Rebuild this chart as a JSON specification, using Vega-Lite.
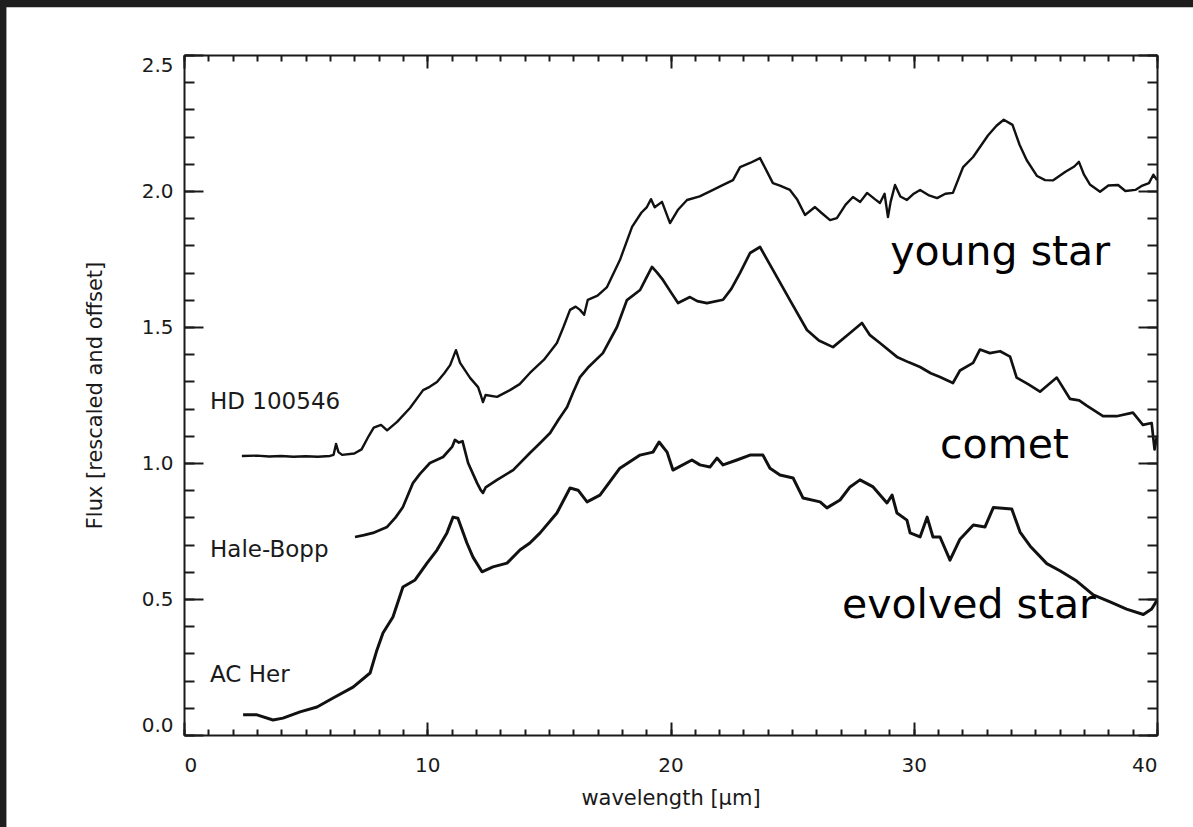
{
  "$schema": "https://vega.github.io/schema/vega-lite/v6.json",
  "width": 973,
  "height": 680,
  "autosize": {"type": "none"},
  "padding": {"left": 184, "top": 55, "right": 36, "bottom": 92},
  "background": "#1e1e1e",
  "config": {
    "view": {"stroke": null},
    "axis": {
      "grid": false,
      "domainColor": "#1a1a1a",
      "domainWidth": 2,
      "tickColor": "#1a1a1a",
      "tickWidth": 2,
      "labelColor": "#1a1a1a",
      "titleColor": "#1a1a1a",
      "labelFont": "DejaVu Sans",
      "titleFont": "DejaVu Sans",
      "titleFontWeight": "normal"
    }
  },
  "datasets": {
    "sheet": [{"part": "sheet"}],
    "spectra": [
      {"star": "HD 100546", "wavelength": 2.38, "flux": 1.026},
      {"star": "HD 100546", "wavelength": 3.0, "flux": 1.027},
      {"star": "HD 100546", "wavelength": 3.5, "flux": 1.024},
      {"star": "HD 100546", "wavelength": 4.0, "flux": 1.026},
      {"star": "HD 100546", "wavelength": 4.5, "flux": 1.023},
      {"star": "HD 100546", "wavelength": 5.0, "flux": 1.025},
      {"star": "HD 100546", "wavelength": 5.5, "flux": 1.023},
      {"star": "HD 100546", "wavelength": 6.0, "flux": 1.026},
      {"star": "HD 100546", "wavelength": 6.15, "flux": 1.03},
      {"star": "HD 100546", "wavelength": 6.25, "flux": 1.07},
      {"star": "HD 100546", "wavelength": 6.35, "flux": 1.04},
      {"star": "HD 100546", "wavelength": 6.5, "flux": 1.03},
      {"star": "HD 100546", "wavelength": 7.0, "flux": 1.035},
      {"star": "HD 100546", "wavelength": 7.3, "flux": 1.05},
      {"star": "HD 100546", "wavelength": 7.6, "flux": 1.1},
      {"star": "HD 100546", "wavelength": 7.8, "flux": 1.13},
      {"star": "HD 100546", "wavelength": 8.1, "flux": 1.14},
      {"star": "HD 100546", "wavelength": 8.35, "flux": 1.12},
      {"star": "HD 100546", "wavelength": 8.76, "flux": 1.151},
      {"star": "HD 100546", "wavelength": 9.29, "flux": 1.202},
      {"star": "HD 100546", "wavelength": 9.83, "flux": 1.268},
      {"star": "HD 100546", "wavelength": 10.1, "flux": 1.28},
      {"star": "HD 100546", "wavelength": 10.4, "flux": 1.298},
      {"star": "HD 100546", "wavelength": 10.7, "flux": 1.33},
      {"star": "HD 100546", "wavelength": 10.94, "flux": 1.36},
      {"star": "HD 100546", "wavelength": 11.18, "flux": 1.415},
      {"star": "HD 100546", "wavelength": 11.35, "flux": 1.368},
      {"star": "HD 100546", "wavelength": 11.76, "flux": 1.313},
      {"star": "HD 100546", "wavelength": 12.09, "flux": 1.279},
      {"star": "HD 100546", "wavelength": 12.2, "flux": 1.25},
      {"star": "HD 100546", "wavelength": 12.29, "flux": 1.224},
      {"star": "HD 100546", "wavelength": 12.4, "flux": 1.25},
      {"star": "HD 100546", "wavelength": 12.87, "flux": 1.243},
      {"star": "HD 100546", "wavelength": 13.4, "flux": 1.268},
      {"star": "HD 100546", "wavelength": 13.8, "flux": 1.29},
      {"star": "HD 100546", "wavelength": 14.22, "flux": 1.331},
      {"star": "HD 100546", "wavelength": 14.8, "flux": 1.38},
      {"star": "HD 100546", "wavelength": 15.33, "flux": 1.441},
      {"star": "HD 100546", "wavelength": 15.6, "flux": 1.5},
      {"star": "HD 100546", "wavelength": 15.87, "flux": 1.563},
      {"star": "HD 100546", "wavelength": 16.1, "flux": 1.575},
      {"star": "HD 100546", "wavelength": 16.28, "flux": 1.563},
      {"star": "HD 100546", "wavelength": 16.45, "flux": 1.545},
      {"star": "HD 100546", "wavelength": 16.6, "flux": 1.6},
      {"star": "HD 100546", "wavelength": 17.0, "flux": 1.615},
      {"star": "HD 100546", "wavelength": 17.39, "flux": 1.647},
      {"star": "HD 100546", "wavelength": 17.92, "flux": 1.746},
      {"star": "HD 100546", "wavelength": 18.42, "flux": 1.868},
      {"star": "HD 100546", "wavelength": 18.8, "flux": 1.92},
      {"star": "HD 100546", "wavelength": 19.03, "flux": 1.941},
      {"star": "HD 100546", "wavelength": 19.2, "flux": 1.97},
      {"star": "HD 100546", "wavelength": 19.35, "flux": 1.94},
      {"star": "HD 100546", "wavelength": 19.65, "flux": 1.96},
      {"star": "HD 100546", "wavelength": 19.98, "flux": 1.882},
      {"star": "HD 100546", "wavelength": 20.3, "flux": 1.93},
      {"star": "HD 100546", "wavelength": 20.68, "flux": 1.967},
      {"star": "HD 100546", "wavelength": 21.2, "flux": 1.98},
      {"star": "HD 100546", "wavelength": 21.75, "flux": 2.004},
      {"star": "HD 100546", "wavelength": 22.1, "flux": 2.02},
      {"star": "HD 100546", "wavelength": 22.57, "flux": 2.04},
      {"star": "HD 100546", "wavelength": 22.86, "flux": 2.088},
      {"star": "HD 100546", "wavelength": 23.27, "flux": 2.103},
      {"star": "HD 100546", "wavelength": 23.68, "flux": 2.121},
      {"star": "HD 100546", "wavelength": 24.21, "flux": 2.029},
      {"star": "HD 100546", "wavelength": 24.5, "flux": 2.02},
      {"star": "HD 100546", "wavelength": 24.91, "flux": 2.004},
      {"star": "HD 100546", "wavelength": 25.2, "flux": 1.97},
      {"star": "HD 100546", "wavelength": 25.53, "flux": 1.912},
      {"star": "HD 100546", "wavelength": 25.94, "flux": 1.941},
      {"star": "HD 100546", "wavelength": 26.2, "flux": 1.92},
      {"star": "HD 100546", "wavelength": 26.56, "flux": 1.893},
      {"star": "HD 100546", "wavelength": 26.84, "flux": 1.9},
      {"star": "HD 100546", "wavelength": 27.2, "flux": 1.95},
      {"star": "HD 100546", "wavelength": 27.5, "flux": 1.978},
      {"star": "HD 100546", "wavelength": 27.8, "flux": 1.96},
      {"star": "HD 100546", "wavelength": 28.08, "flux": 1.993},
      {"star": "HD 100546", "wavelength": 28.4, "flux": 1.97},
      {"star": "HD 100546", "wavelength": 28.61, "flux": 1.956},
      {"star": "HD 100546", "wavelength": 28.8, "flux": 1.99},
      {"star": "HD 100546", "wavelength": 28.94, "flux": 1.904},
      {"star": "HD 100546", "wavelength": 29.05, "flux": 1.96},
      {"star": "HD 100546", "wavelength": 29.23, "flux": 2.022},
      {"star": "HD 100546", "wavelength": 29.45, "flux": 1.98},
      {"star": "HD 100546", "wavelength": 29.72, "flux": 1.967},
      {"star": "HD 100546", "wavelength": 30.0, "flux": 1.99},
      {"star": "HD 100546", "wavelength": 30.26, "flux": 2.004},
      {"star": "HD 100546", "wavelength": 30.6, "flux": 1.985},
      {"star": "HD 100546", "wavelength": 30.96, "flux": 1.974},
      {"star": "HD 100546", "wavelength": 31.3, "flux": 1.99},
      {"star": "HD 100546", "wavelength": 31.61, "flux": 1.993},
      {"star": "HD 100546", "wavelength": 32.03, "flux": 2.088},
      {"star": "HD 100546", "wavelength": 32.44, "flux": 2.125},
      {"star": "HD 100546", "wavelength": 33.05, "flux": 2.204},
      {"star": "HD 100546", "wavelength": 33.4, "flux": 2.24},
      {"star": "HD 100546", "wavelength": 33.7, "flux": 2.262},
      {"star": "HD 100546", "wavelength": 34.06, "flux": 2.243},
      {"star": "HD 100546", "wavelength": 34.35, "flux": 2.17},
      {"star": "HD 100546", "wavelength": 34.64, "flux": 2.114},
      {"star": "HD 100546", "wavelength": 35.07, "flux": 2.055},
      {"star": "HD 100546", "wavelength": 35.4, "flux": 2.04},
      {"star": "HD 100546", "wavelength": 35.72, "flux": 2.039},
      {"star": "HD 100546", "wavelength": 36.22, "flux": 2.07},
      {"star": "HD 100546", "wavelength": 36.6, "flux": 2.09},
      {"star": "HD 100546", "wavelength": 36.79, "flux": 2.107},
      {"star": "HD 100546", "wavelength": 37.0, "flux": 2.06},
      {"star": "HD 100546", "wavelength": 37.24, "flux": 2.024},
      {"star": "HD 100546", "wavelength": 37.66, "flux": 1.997},
      {"star": "HD 100546", "wavelength": 38.0, "flux": 2.02},
      {"star": "HD 100546", "wavelength": 38.4, "flux": 2.022},
      {"star": "HD 100546", "wavelength": 38.7, "flux": 2.0},
      {"star": "HD 100546", "wavelength": 39.11, "flux": 2.004},
      {"star": "HD 100546", "wavelength": 39.4, "flux": 2.02},
      {"star": "HD 100546", "wavelength": 39.67, "flux": 2.029},
      {"star": "HD 100546", "wavelength": 39.85, "flux": 2.06},
      {"star": "HD 100546", "wavelength": 40.0, "flux": 2.04},

      {"star": "Hale-Bopp", "wavelength": 7.03, "flux": 0.728},
      {"star": "Hale-Bopp", "wavelength": 7.4, "flux": 0.735},
      {"star": "Hale-Bopp", "wavelength": 7.77, "flux": 0.743},
      {"star": "Hale-Bopp", "wavelength": 8.35, "flux": 0.765},
      {"star": "Hale-Bopp", "wavelength": 8.7, "flux": 0.8},
      {"star": "Hale-Bopp", "wavelength": 9.0, "flux": 0.838},
      {"star": "Hale-Bopp", "wavelength": 9.41, "flux": 0.926},
      {"star": "Hale-Bopp", "wavelength": 9.7, "flux": 0.96},
      {"star": "Hale-Bopp", "wavelength": 10.11, "flux": 1.0},
      {"star": "Hale-Bopp", "wavelength": 10.65, "flux": 1.022},
      {"star": "Hale-Bopp", "wavelength": 11.02, "flux": 1.059},
      {"star": "Hale-Bopp", "wavelength": 11.14, "flux": 1.085},
      {"star": "Hale-Bopp", "wavelength": 11.3, "flux": 1.075},
      {"star": "Hale-Bopp", "wavelength": 11.45, "flux": 1.08},
      {"star": "Hale-Bopp", "wavelength": 11.68, "flux": 1.0},
      {"star": "Hale-Bopp", "wavelength": 12.05, "flux": 0.926},
      {"star": "Hale-Bopp", "wavelength": 12.2, "flux": 0.9},
      {"star": "Hale-Bopp", "wavelength": 12.29, "flux": 0.89},
      {"star": "Hale-Bopp", "wavelength": 12.4, "flux": 0.91},
      {"star": "Hale-Bopp", "wavelength": 12.87, "flux": 0.938},
      {"star": "Hale-Bopp", "wavelength": 13.53, "flux": 0.974},
      {"star": "Hale-Bopp", "wavelength": 14.22, "flux": 1.037},
      {"star": "Hale-Bopp", "wavelength": 14.6, "flux": 1.07},
      {"star": "Hale-Bopp", "wavelength": 15.05, "flux": 1.11},
      {"star": "Hale-Bopp", "wavelength": 15.4, "flux": 1.16},
      {"star": "Hale-Bopp", "wavelength": 15.75, "flux": 1.206},
      {"star": "Hale-Bopp", "wavelength": 16.0, "flux": 1.26},
      {"star": "Hale-Bopp", "wavelength": 16.28, "flux": 1.316},
      {"star": "Hale-Bopp", "wavelength": 16.6, "flux": 1.35},
      {"star": "Hale-Bopp", "wavelength": 17.22, "flux": 1.404},
      {"star": "Hale-Bopp", "wavelength": 17.8, "flux": 1.5},
      {"star": "Hale-Bopp", "wavelength": 18.21, "flux": 1.599},
      {"star": "Hale-Bopp", "wavelength": 18.75, "flux": 1.636},
      {"star": "Hale-Bopp", "wavelength": 19.0, "flux": 1.68},
      {"star": "Hale-Bopp", "wavelength": 19.24, "flux": 1.721},
      {"star": "Hale-Bopp", "wavelength": 19.45, "flux": 1.7},
      {"star": "Hale-Bopp", "wavelength": 19.69, "flux": 1.673},
      {"star": "Hale-Bopp", "wavelength": 20.0, "flux": 1.63},
      {"star": "Hale-Bopp", "wavelength": 20.31, "flux": 1.588},
      {"star": "Hale-Bopp", "wavelength": 20.8, "flux": 1.61},
      {"star": "Hale-Bopp", "wavelength": 21.1, "flux": 1.595},
      {"star": "Hale-Bopp", "wavelength": 21.5, "flux": 1.588},
      {"star": "Hale-Bopp", "wavelength": 22.16, "flux": 1.6},
      {"star": "Hale-Bopp", "wavelength": 22.5, "flux": 1.64},
      {"star": "Hale-Bopp", "wavelength": 22.86, "flux": 1.699},
      {"star": "Hale-Bopp", "wavelength": 23.27, "flux": 1.772},
      {"star": "Hale-Bopp", "wavelength": 23.68, "flux": 1.794},
      {"star": "Hale-Bopp", "wavelength": 24.21, "flux": 1.71},
      {"star": "Hale-Bopp", "wavelength": 24.91, "flux": 1.599},
      {"star": "Hale-Bopp", "wavelength": 25.61, "flux": 1.489},
      {"star": "Hale-Bopp", "wavelength": 26.1, "flux": 1.45},
      {"star": "Hale-Bopp", "wavelength": 26.68, "flux": 1.426},
      {"star": "Hale-Bopp", "wavelength": 27.38, "flux": 1.478},
      {"star": "Hale-Bopp", "wavelength": 27.87, "flux": 1.515},
      {"star": "Hale-Bopp", "wavelength": 28.2, "flux": 1.47},
      {"star": "Hale-Bopp", "wavelength": 28.61, "flux": 1.441},
      {"star": "Hale-Bopp", "wavelength": 29.31, "flux": 1.39},
      {"star": "Hale-Bopp", "wavelength": 29.8, "flux": 1.37},
      {"star": "Hale-Bopp", "wavelength": 30.26, "flux": 1.353},
      {"star": "Hale-Bopp", "wavelength": 30.7, "flux": 1.33},
      {"star": "Hale-Bopp", "wavelength": 31.08, "flux": 1.316},
      {"star": "Hale-Bopp", "wavelength": 31.61, "flux": 1.294},
      {"star": "Hale-Bopp", "wavelength": 31.9, "flux": 1.34},
      {"star": "Hale-Bopp", "wavelength": 32.44, "flux": 1.368},
      {"star": "Hale-Bopp", "wavelength": 32.72, "flux": 1.417},
      {"star": "Hale-Bopp", "wavelength": 33.13, "flux": 1.404},
      {"star": "Hale-Bopp", "wavelength": 33.55, "flux": 1.411},
      {"star": "Hale-Bopp", "wavelength": 33.96, "flux": 1.391},
      {"star": "Hale-Bopp", "wavelength": 34.23, "flux": 1.314},
      {"star": "Hale-Bopp", "wavelength": 34.7, "flux": 1.29},
      {"star": "Hale-Bopp", "wavelength": 35.19, "flux": 1.262},
      {"star": "Hale-Bopp", "wavelength": 35.88, "flux": 1.314},
      {"star": "Hale-Bopp", "wavelength": 36.42, "flux": 1.236},
      {"star": "Hale-Bopp", "wavelength": 36.8, "flux": 1.23},
      {"star": "Hale-Bopp", "wavelength": 37.11, "flux": 1.211},
      {"star": "Hale-Bopp", "wavelength": 37.78, "flux": 1.172},
      {"star": "Hale-Bopp", "wavelength": 38.34, "flux": 1.172},
      {"star": "Hale-Bopp", "wavelength": 39.01, "flux": 1.185},
      {"star": "Hale-Bopp", "wavelength": 39.42, "flux": 1.14},
      {"star": "Hale-Bopp", "wavelength": 39.78, "flux": 1.147},
      {"star": "Hale-Bopp", "wavelength": 39.9, "flux": 1.05},
      {"star": "Hale-Bopp", "wavelength": 40.0, "flux": 1.1},

      {"star": "AC Her", "wavelength": 2.43, "flux": 0.074},
      {"star": "AC Her", "wavelength": 3.0, "flux": 0.074},
      {"star": "AC Her", "wavelength": 3.66, "flux": 0.055},
      {"star": "AC Her", "wavelength": 4.07, "flux": 0.062},
      {"star": "AC Her", "wavelength": 4.77, "flux": 0.085},
      {"star": "AC Her", "wavelength": 5.47, "flux": 0.103},
      {"star": "AC Her", "wavelength": 6.13, "flux": 0.136},
      {"star": "AC Her", "wavelength": 6.95, "flux": 0.176},
      {"star": "AC Her", "wavelength": 7.65, "flux": 0.228},
      {"star": "AC Her", "wavelength": 7.93, "flux": 0.312},
      {"star": "AC Her", "wavelength": 8.18, "flux": 0.375},
      {"star": "AC Her", "wavelength": 8.59, "flux": 0.434},
      {"star": "AC Her", "wavelength": 9.0, "flux": 0.544},
      {"star": "AC Her", "wavelength": 9.5, "flux": 0.57},
      {"star": "AC Her", "wavelength": 9.99, "flux": 0.632},
      {"star": "AC Her", "wavelength": 10.4, "flux": 0.68},
      {"star": "AC Her", "wavelength": 10.81, "flux": 0.743},
      {"star": "AC Her", "wavelength": 11.06, "flux": 0.801},
      {"star": "AC Her", "wavelength": 11.26, "flux": 0.797},
      {"star": "AC Her", "wavelength": 11.63, "flux": 0.706},
      {"star": "AC Her", "wavelength": 11.88, "flux": 0.654},
      {"star": "AC Her", "wavelength": 12.25, "flux": 0.6},
      {"star": "AC Her", "wavelength": 12.7, "flux": 0.618},
      {"star": "AC Her", "wavelength": 13.28, "flux": 0.632},
      {"star": "AC Her", "wavelength": 13.81, "flux": 0.68},
      {"star": "AC Her", "wavelength": 14.22, "flux": 0.706},
      {"star": "AC Her", "wavelength": 14.64, "flux": 0.743},
      {"star": "AC Her", "wavelength": 15.33, "flux": 0.816},
      {"star": "AC Her", "wavelength": 15.87, "flux": 0.908},
      {"star": "AC Her", "wavelength": 16.2, "flux": 0.9},
      {"star": "AC Her", "wavelength": 16.57, "flux": 0.857},
      {"star": "AC Her", "wavelength": 17.1, "flux": 0.882},
      {"star": "AC Her", "wavelength": 17.92, "flux": 0.981},
      {"star": "AC Her", "wavelength": 18.75, "flux": 1.029},
      {"star": "AC Her", "wavelength": 19.28, "flux": 1.04},
      {"star": "AC Her", "wavelength": 19.53, "flux": 1.077},
      {"star": "AC Her", "wavelength": 19.86, "flux": 1.04},
      {"star": "AC Her", "wavelength": 20.1, "flux": 0.974},
      {"star": "AC Her", "wavelength": 20.88, "flux": 1.011},
      {"star": "AC Her", "wavelength": 21.21, "flux": 0.993},
      {"star": "AC Her", "wavelength": 21.62, "flux": 0.985},
      {"star": "AC Her", "wavelength": 21.91, "flux": 1.018},
      {"star": "AC Her", "wavelength": 22.16, "flux": 0.993},
      {"star": "AC Her", "wavelength": 22.73, "flux": 1.011},
      {"star": "AC Her", "wavelength": 23.27, "flux": 1.029},
      {"star": "AC Her", "wavelength": 23.8, "flux": 1.029},
      {"star": "AC Her", "wavelength": 24.09, "flux": 0.981},
      {"star": "AC Her", "wavelength": 24.5, "flux": 0.956},
      {"star": "AC Her", "wavelength": 25.04, "flux": 0.945},
      {"star": "AC Her", "wavelength": 25.45, "flux": 0.871},
      {"star": "AC Her", "wavelength": 26.15, "flux": 0.857},
      {"star": "AC Her", "wavelength": 26.43, "flux": 0.835},
      {"star": "AC Her", "wavelength": 26.97, "flux": 0.864},
      {"star": "AC Her", "wavelength": 27.38, "flux": 0.912},
      {"star": "AC Her", "wavelength": 27.79, "flux": 0.938},
      {"star": "AC Her", "wavelength": 28.33, "flux": 0.912},
      {"star": "AC Her", "wavelength": 28.9, "flux": 0.853},
      {"star": "AC Her", "wavelength": 29.11, "flux": 0.882},
      {"star": "AC Her", "wavelength": 29.31, "flux": 0.816},
      {"star": "AC Her", "wavelength": 29.72, "flux": 0.79},
      {"star": "AC Her", "wavelength": 29.85, "flux": 0.743},
      {"star": "AC Her", "wavelength": 30.26, "flux": 0.728},
      {"star": "AC Her", "wavelength": 30.55, "flux": 0.801},
      {"star": "AC Her", "wavelength": 30.79, "flux": 0.728},
      {"star": "AC Her", "wavelength": 31.08, "flux": 0.728},
      {"star": "AC Her", "wavelength": 31.49, "flux": 0.643},
      {"star": "AC Her", "wavelength": 31.9, "flux": 0.72},
      {"star": "AC Her", "wavelength": 32.45, "flux": 0.772},
      {"star": "AC Her", "wavelength": 32.93, "flux": 0.765},
      {"star": "AC Her", "wavelength": 33.27, "flux": 0.836},
      {"star": "AC Her", "wavelength": 34.03, "flux": 0.831},
      {"star": "AC Her", "wavelength": 34.37, "flux": 0.746},
      {"star": "AC Her", "wavelength": 34.78, "flux": 0.695},
      {"star": "AC Her", "wavelength": 35.47, "flux": 0.63},
      {"star": "AC Her", "wavelength": 36.01, "flux": 0.604},
      {"star": "AC Her", "wavelength": 36.7, "flux": 0.566},
      {"star": "AC Her", "wavelength": 37.38, "flux": 0.515},
      {"star": "AC Her", "wavelength": 38.07, "flux": 0.489},
      {"star": "AC Her", "wavelength": 38.75, "flux": 0.463},
      {"star": "AC Her", "wavelength": 39.44, "flux": 0.443},
      {"star": "AC Her", "wavelength": 39.78, "flux": 0.463},
      {"star": "AC Her", "wavelength": 40.0, "flux": 0.495}
    ],
    "names": [
      {"name": "HD 100546", "wavelength": 1.07, "flux": 1.224},
      {"name": "Hale-Bopp", "wavelength": 1.07, "flux": 0.68},
      {"name": "AC Her", "wavelength": 1.07, "flux": 0.22}
    ],
    "notes": [
      {"note": "young star", "wavelength": 38.07, "flux": 1.728},
      {"note": "comet", "wavelength": 36.38, "flux": 1.018},
      {"note": "evolved star", "wavelength": 37.49, "flux": 0.43}
    ]
  },
  "layer": [
    {
      "description": "white sheet behind the plot, with the minor ticks of the top and right axes",
      "data": {"name": "sheet"},
      "mark": {"type": "rect", "color": "#ffffff"},
      "encoding": {
        "x": {
          "datum": -7.3, "type": "quantitative",
          "scale": {"domain": [0, 40], "nice": false, "zero": false},
          "axis": {"orient": "top", "zindex": 1, "values": [0,1,2,3,4,5,6,7,8,9,10,11,12,13,14,15,16,17,18,19,20,21,22,23,24,25,26,27,28,29,30,31,32,33,34,35,36,37,38,39,40], "tickSize": -6, "labels": false, "domain": false, "title": null}
        },
        "x2": {"datum": 42},
        "y": {
          "datum": 2.676, "type": "quantitative",
          "scale": {"domain": [0, 2.5], "nice": false, "zero": false},
          "axis": {"orient": "right", "zindex": 1, "values": [0,0.1,0.2,0.3,0.4,0.5,0.6,0.7,0.8,0.9,1.0,1.1,1.2,1.3,1.4,1.5,1.6,1.7,1.8,1.9,2.0,2.1,2.2,2.3,2.4,2.5], "tickSize": -10, "labels": false, "domain": false, "title": null}
        },
        "y2": {"datum": -0.4}
      }
    },
    {
      "data": {"name": "spectra"},
      "mark": {"type": "line", "color": "#111111", "strokeJoin": "round"},
      "encoding": {
        "x": {
          "field": "wavelength", "type": "quantitative",
          "scale": {"domain": [0, 40], "nice": false, "zero": false},
          "axis": {"orient": "bottom", "zindex": 1, "values": [0, 10, 20, 30, 40], "tickSize": -13, "labelFontSize": 20, "labelPadding": 33, "title": "wavelength [μm]", "titleFontSize": 21, "titlePadding": 12}
        },
        "y": {
          "field": "flux", "type": "quantitative",
          "scale": {"domain": [0, 2.5], "nice": false, "zero": false},
          "axis": {"orient": "left", "zindex": 1, "values": [0, 0.5, 1.0, 1.5, 2.0, 2.5], "format": ".1f", "tickSize": -19, "labelFontSize": 20, "labelPadding": 30, "labelFlush": true, "labelFlushOffset": 0, "title": "Flux [rescaled and offset]", "titleFontSize": 21, "titlePadding": 36}
        },
        "detail": {"field": "star", "type": "nominal"},
        "strokeWidth": {
          "field": "star", "type": "nominal",
          "scale": {"domain": ["HD 100546", "Hale-Bopp", "AC Her"], "range": [2.4, 3.0, 1.8]},
          "legend": null
        }
      }
    },
    {
      "data": {"name": "names"},
      "mark": {"type": "text", "align": "left", "baseline": "middle", "font": "DejaVu Sans", "fontSize": 23, "color": "#1a1a1a"},
      "encoding": {
        "x": {
          "field": "wavelength", "type": "quantitative",
          "scale": {"domain": [0, 40], "nice": false, "zero": false},
          "axis": {"orient": "bottom", "zindex": 1, "values": [0,1,2,3,4,5,6,7,8,9,10,11,12,13,14,15,16,17,18,19,20,21,22,23,24,25,26,27,28,29,30,31,32,33,34,35,36,37,38,39,40], "tickSize": -6, "labels": false, "domain": false, "title": null}
        },
        "y": {
          "field": "flux", "type": "quantitative",
          "scale": {"domain": [0, 2.5], "nice": false, "zero": false},
          "axis": {"orient": "left", "zindex": 1, "values": [0,0.1,0.2,0.3,0.4,0.5,0.6,0.7,0.8,0.9,1.0,1.1,1.2,1.3,1.4,1.5,1.6,1.7,1.8,1.9,2.0,2.1,2.2,2.3,2.4,2.5], "tickSize": -10, "labels": false, "domain": false, "title": null}
        },
        "text": {"field": "name", "type": "nominal"}
      }
    },
    {
      "data": {"name": "notes"},
      "mark": {"type": "text", "align": "right", "baseline": "alphabetic", "font": "DejaVu Sans", "fontSize": 41, "color": "#000000"},
      "encoding": {
        "x": {
          "field": "wavelength", "type": "quantitative",
          "scale": {"domain": [0, 40], "nice": false, "zero": false},
          "axis": {"orient": "top", "zindex": 1, "values": [0, 10, 20, 30, 40], "tickSize": -13, "labels": false, "title": null}
        },
        "y": {
          "field": "flux", "type": "quantitative",
          "scale": {"domain": [0, 2.5], "nice": false, "zero": false},
          "axis": {"orient": "right", "zindex": 1, "values": [0, 0.5, 1.0, 1.5, 2.0, 2.5], "tickSize": -19, "labels": false, "title": null}
        },
        "text": {"field": "note", "type": "nominal"}
      }
    }
  ],
  "resolve": {"axis": {"x": "independent", "y": "independent"}}
}
